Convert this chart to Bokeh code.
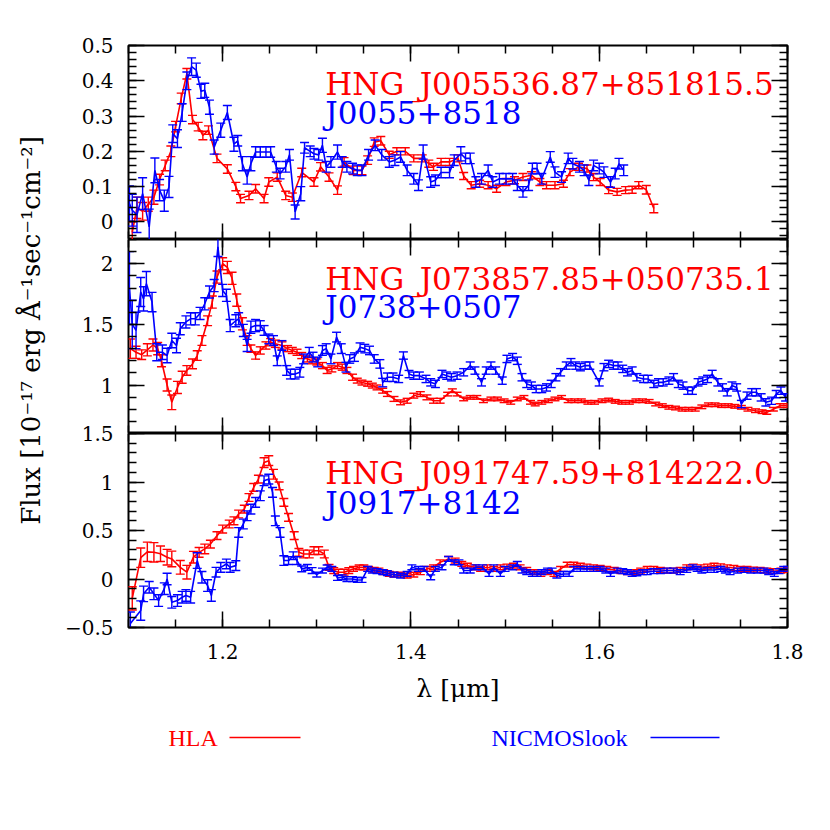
import math
from bokeh.plotting import figure
from bokeh.models import (Range1d, LinearAxis, FixedTicker, CustomJSTickFormatter,
                          Label, ColumnDataSource)
from bokeh.layouts import column, row
from bokeh.embed import file_html
from bokeh.resources import INLINE

RED = "#ff0000"
BLUE = "#0000ff"
SERIF = "DejaVu Serif"

# ---------------- data ----------------
# Panel 1: HNG_J005536.87+851815.5 / J0055+8518
lam1_hla = [1.104,1.109,1.115,1.121,1.127,1.133,1.139,1.145,1.150,1.156,1.162,1.168,1.174,1.179,1.185,1.194,1.205,1.214,1.219,1.228,
            1.235,1.244,1.249,1.258,1.267,1.274,1.284,1.297,1.304,1.313,1.322,1.329,1.339,1.348,1.354,1.361,1.368,1.377,1.385,1.394,
            1.403,1.412,1.419,1.424,1.432,1.441,1.450,1.456,1.464,1.473,1.482,1.491,1.501,1.510,1.519,1.528,1.537,1.544,1.553,1.562,
            1.569,1.578,1.587,1.594,1.601,1.610,1.619,1.628,1.635,1.642,1.650,1.658]
flux1_hla = [-0.03,0.04,0.03,0.05,0.07,0.12,0.16,0.20,0.27,0.35,0.42,0.29,0.27,0.245,0.26,0.18,0.15,0.10,0.066,0.075,
             0.094,0.066,0.113,0.127,0.075,0.07,0.14,0.113,0.156,0.127,0.09,0.17,0.146,0.146,0.175,0.226,0.23,0.19,0.20,0.20,
             0.18,0.18,0.165,0.156,0.17,0.17,0.18,0.13,0.104,0.108,0.104,0.094,0.113,0.118,0.127,0.132,0.113,0.104,0.104,0.108,
             0.141,0.156,0.151,0.127,0.113,0.09,0.085,0.09,0.091,0.104,0.091,0.038]
err1_hla = [0.03,0.03,0.025,0.02,0.02,0.015,0.015,0.015,0.015,0.015,
            0.015,0.012,0.012,0.012,0.012,0.012,0.012,0.012,0.012,0.012,
            0.012,0.012,0.012,0.012,0.012,0.012,0.012,0.012,0.012,0.012,
            0.012,0.012,0.012,0.012,0.012,0.012,0.012,0.01,0.01,0.01,
            0.01,0.01,0.01,0.01,0.01,0.01,0.01,0.01,0.01,0.01,
            0.01,0.01,0.01,0.01,0.01,0.01,0.01,0.01,0.01,0.01,
            0.01,0.01,0.01,0.01,0.01,0.01,0.01,0.01,0.01,0.01,
            0.012,0.012]

lam1_nic = [1.101,1.104,1.109,1.115,1.122,1.128,1.133,1.138,1.143,1.147,1.152,1.157,1.162,1.167,1.172,1.177,1.181,1.186,1.191,1.198,
            1.205,1.212,1.216,1.221,1.226,1.230,1.235,1.240,1.246,1.251,1.257,1.261,1.267,1.271,1.277,1.283,1.287,1.293,1.297,1.302,
            1.306,1.310,1.315,1.322,1.327,1.332,1.338,1.343,1.348,1.355,1.362,1.369,1.377,1.383,1.389,1.396,1.403,1.408,1.413,1.421,
            1.426,1.432,1.441,1.446,1.453,1.458,1.463,1.469,1.475,1.482,1.487,1.494,1.501,1.508,1.513,1.519,1.525,1.529,1.534,1.539,
            1.548,1.553,1.560,1.567,1.572,1.579,1.584,1.589,1.594,1.600,1.605,1.612,1.617,1.621,1.626]
flux1_nic = [0.052,0.033,0.02,0.08,-0.014,0.146,0.09,0.06,0.099,0.25,0.236,0.31,0.40,0.44,0.43,0.37,0.373,0.325,0.212,0.26,
             0.31,0.22,0.23,0.165,0.127,0.165,0.198,0.198,0.198,0.198,0.156,0.137,0.156,0.19,0.028,0.08,0.21,0.20,0.193,0.19,
             0.217,0.156,0.17,0.198,0.17,0.156,0.151,0.146,0.146,0.19,0.217,0.19,0.17,0.175,0.184,0.146,0.122,0.104,0.198,0.113,
             0.118,0.14,0.14,0.175,0.193,0.18,0.18,0.113,0.122,0.146,0.113,0.122,0.122,0.122,0.104,0.085,0.104,0.151,0.151,0.122,
             0.184,0.141,0.127,0.18,0.165,0.156,0.146,0.118,0.16,0.151,0.141,0.113,0.137,0.165,0.146]
err1_nic = [0.05,0.045,0.05,0.045,0.05,0.035,0.03,0.03,0.03,0.025,
            0.025,0.025,0.025,0.025,0.02,0.02,0.02,0.02,0.02,0.02,
            0.02,0.02,0.015,0.02,0.02,0.02,0.015,0.015,0.015,0.015,
            0.015,0.015,0.015,0.015,0.02,0.02,0.015,0.015,0.015,0.015,
            0.02,0.015,0.015,0.02,0.015,0.015,0.015,0.015,0.015,0.015,
            0.015,0.015,0.015,0.015,0.015,0.015,0.015,0.015,0.02,0.015,
            0.015,0.015,0.015,0.015,0.02,0.015,0.015,0.015,0.015,0.015,
            0.015,0.015,0.015,0.015,0.015,0.015,0.015,0.015,0.015,0.015,
            0.015,0.015,0.015,0.015,0.015,0.015,0.015,0.015,0.015,0.015,
            0.015,0.015,0.015,0.015,0.015]

# Panel 2: HNG_J073857.85+050735.1 / J0738+0507
lam2_hla = [1.102,1.108,1.114,1.120,1.126,1.131,1.135,1.141,1.146,1.152,1.157,1.162,1.168,1.173,1.178,1.184,1.189,1.194,1.200,1.205,
            1.210,1.215,1.221,1.226,1.230,1.235,1.240,1.246,1.251,1.256,1.263,1.269,1.274,1.279,1.284,1.290,1.295,1.300,1.306,1.311,
            1.316,1.322,1.327,1.332,1.338,1.343,1.348,1.354,1.359,1.364,1.370,1.375,1.382,1.389,1.396,1.403,1.410,1.417,1.424,1.431,
            1.439,1.444,1.449,1.456,1.463,1.470,1.477,1.485,1.492,1.499,1.506,1.513,1.520,1.527,1.532,1.539,1.546,1.553,1.560,1.567,
            1.574,1.581,1.588,1.595,1.603,1.610,1.617,1.624,1.632,1.639,1.646,1.653,1.660,1.667,1.674,1.681,1.688,1.695,1.702,1.709,
            1.716,1.723,1.730,1.737,1.744,1.751,1.758,1.766,1.773,1.778,1.785,1.792,1.800]
flux2_hla = [1.30,1.27,1.25,1.29,1.33,1.30,1.20,1.00,0.857,0.98,1.064,1.12,1.174,1.243,1.367,1.53,1.684,1.89,2.0,1.97,
             1.88,1.70,1.505,1.367,1.30,1.243,1.285,1.326,1.353,1.34,1.326,1.30,1.285,1.27,1.243,1.215,1.20,1.19,1.16,1.12,
             1.133,1.16,1.147,1.12,1.064,1.036,1.02,1.01,0.995,0.98,0.953,0.926,0.885,0.857,0.87,0.912,0.925,0.898,0.87,0.87,
             0.925,0.953,0.925,0.885,0.898,0.898,0.87,0.885,0.885,0.87,0.857,0.885,0.898,0.857,0.843,0.857,0.87,0.885,0.898,0.87,
             0.87,0.87,0.857,0.857,0.87,0.876,0.865,0.857,0.857,0.87,0.87,0.865,0.843,0.83,0.816,0.81,0.80,0.80,0.80,0.82,
             0.837,0.837,0.83,0.83,0.824,0.816,0.80,0.788,0.78,0.774,0.80,0.83,0.83]
err2_hla = [0.08,0.05,0.04,0.05,0.05,0.05,0.05,0.05,0.06,0.05,
            0.05,0.04,0.04,0.04,0.04,0.04,0.05,0.05,0.05,0.05,
            0.05,0.05,0.05,0.04,0.03,0.03,0.03,0.03,0.03,0.03,
            0.03,0.025,0.025,0.025,0.025,0.025,0.025,0.025,0.025,0.025,
            0.025,0.025,0.025,0.025,0.025,0.02,0.02,0.02,0.02,0.02,
            0.02,0.02,0.02,0.02,0.02,0.02,0.02,0.02,0.02,0.02,
            0.015,0.015,0.015,0.015,0.015,0.015,0.015,0.015,0.015,0.015,
            0.015,0.015,0.015,0.015,0.015,0.015,0.015,0.015,0.015,0.015,
            0.015,0.015,0.015,0.015,0.015,0.015,0.015,0.015,0.015,0.015,
            0.015,0.015,0.015,0.015,0.015,0.015,0.015,0.015,0.015,0.015,
            0.015,0.015,0.015,0.015,0.015,0.015,0.015,0.015,0.015,0.015,
            0.015,0.015,0.015]

lam2_nic = [1.101,1.104,1.108,1.113,1.116,1.119,1.125,1.130,1.136,1.141,1.146,1.151,1.155,1.161,1.166,1.171,1.176,1.181,1.186,1.191,
            1.195,1.200,1.204,1.208,1.214,1.217,1.222,1.226,1.230,1.235,1.240,1.244,1.249,1.254,1.258,1.263,1.268,1.272,1.277,1.282,
            1.286,1.292,1.296,1.301,1.306,1.310,1.315,1.321,1.326,1.331,1.335,1.340,1.346,1.351,1.356,1.361,1.367,1.370,1.375,1.381,
            1.387,1.392,1.398,1.403,1.409,1.416,1.421,1.426,1.433,1.438,1.443,1.449,1.456,1.463,1.468,1.475,1.480,1.485,1.490,1.497,
            1.502,1.508,1.513,1.518,1.523,1.528,1.533,1.539,1.544,1.549,1.554,1.559,1.565,1.570,1.575,1.580,1.585,1.590,1.600,1.605,
            1.610,1.615,1.620,1.625,1.630,1.635,1.640,1.647,1.652,1.658,1.663,1.668,1.674,1.679,1.684,1.689,1.694,1.699,1.705,1.710,
            1.715,1.720,1.726,1.731,1.736,1.741,1.746,1.751,1.757,1.762,1.767,1.772,1.777,1.783,1.788,1.793,1.798]
flux2_nic = [1.80,1.50,1.45,1.767,1.71,1.836,1.684,1.27,1.27,1.243,1.367,1.326,1.464,1.52,1.546,1.546,1.59,1.67,1.767,1.82,
             2.14,1.78,1.74,1.49,1.53,1.546,1.45,1.326,1.477,1.49,1.49,1.45,1.38,1.367,1.20,1.326,1.12,1.09,1.09,1.105,
             1.215,1.27,1.23,1.19,1.285,1.30,1.215,1.395,1.30,1.147,1.215,1.23,1.312,1.30,1.285,1.215,1.174,1.02,1.064,1.064,
             1.05,1.243,1.09,1.077,1.077,1.05,1.022,1.009,1.091,1.077,1.064,1.077,1.105,1.16,1.119,1.022,1.119,1.16,1.119,1.036,
             1.215,1.23,1.20,1.064,1.009,0.995,0.967,0.967,0.98,1.009,1.064,1.105,1.16,1.188,1.16,1.147,1.16,1.16,1.022,1.147,
             1.174,1.16,1.16,1.133,1.105,1.119,1.064,1.05,1.05,1.009,1.022,1.022,1.036,1.064,1.009,0.995,0.953,0.953,1.022,1.036,
             1.05,1.091,1.022,0.98,0.94,0.995,0.98,0.843,0.912,0.94,0.94,0.898,0.857,0.87,0.925,0.953,0.898]
err2_nic = [0.3,0.2,0.15,0.12,0.1,0.1,0.08,0.07,0.06,0.06,
            0.06,0.06,0.05,0.05,0.05,0.05,0.05,0.05,0.05,0.05,
            0.08,0.05,0.05,0.05,0.05,0.05,0.05,0.05,0.05,0.05,
            0.04,0.04,0.04,0.04,0.04,0.04,0.04,0.04,0.04,0.04,
            0.04,0.04,0.04,0.04,0.04,0.04,0.04,0.04,0.04,0.04,
            0.035,0.035,0.035,0.035,0.035,0.035,0.035,0.035,0.035,0.035,
            0.03,0.03,0.03,0.03,0.03,0.03,0.03,0.03,0.03,0.03,
            0.03,0.03,0.03,0.03,0.03,0.03,0.03,0.03,0.03,0.03,
            0.03,0.03,0.03,0.03,0.03,0.03,0.03,0.03,0.03,0.03,
            0.03,0.03,0.03,0.03,0.03,0.03,0.03,0.03,0.03,0.03,
            0.03,0.03,0.03,0.03,0.03,0.03,0.03,0.03,0.03,0.03,
            0.03,0.03,0.03,0.03,0.03,0.03,0.03,0.03,0.03,0.03,
            0.03,0.03,0.03,0.03,0.03,0.03,0.03,0.03,0.03,0.03,
            0.03,0.03,0.03,0.03,0.03,0.03,0.03]

# Panel 3: HNG_J091747.59+814222.0 / J0917+8142
lam3_hla = [1.104,1.113,1.120,1.127,1.134,1.141,1.146,1.155,1.162,1.169,1.175,1.181,1.187,1.194,1.200,1.207,1.212,1.217,1.223,1.228,
            1.233,1.238,1.244,1.249,1.254,1.260,1.265,1.270,1.276,1.281,1.286,1.292,1.297,1.302,1.308,1.313,1.318,1.323,1.329,1.334,
            1.339,1.345,1.350,1.355,1.361,1.366,1.371,1.377,1.382,1.389,1.396,1.403,1.410,1.417,1.424,1.431,1.440,1.447,1.454,1.460,
            1.467,1.474,1.481,1.488,1.495,1.502,1.509,1.516,1.523,1.531,1.538,1.545,1.552,1.559,1.566,1.573,1.580,1.587,1.594,1.601,
            1.608,1.616,1.623,1.630,1.637,1.644,1.651,1.658,1.665,1.672,1.679,1.686,1.693,1.700,1.708,1.715,1.722,1.729,1.736,1.743,
            1.750,1.757,1.764,1.771,1.778,1.785,1.793,1.800]
flux3_hla = [-0.20,0.22,0.28,0.275,0.26,0.225,0.207,0.12,0.07,0.225,0.275,0.31,0.36,0.447,0.515,0.567,0.60,0.67,0.72,0.84,
             0.944,1.03,1.20,1.22,1.08,0.96,0.79,0.635,0.447,0.275,0.258,0.258,0.292,0.292,0.258,0.12,0.087,0.07,0.07,0.087,
             0.104,0.12,0.12,0.104,0.094,0.087,0.07,0.052,0.045,0.045,0.035,0.045,0.07,0.104,0.121,0.172,0.207,0.19,0.155,0.138,
             0.121,0.104,0.121,0.104,0.121,0.128,0.138,0.121,0.093,0.07,0.052,0.07,0.052,0.104,0.148,0.148,0.138,0.128,0.121,0.114,
             0.104,0.093,0.08,0.07,0.07,0.087,0.104,0.104,0.093,0.087,0.087,0.093,0.121,0.128,0.121,0.128,0.138,0.131,0.121,0.114,
             0.104,0.104,0.097,0.093,0.087,0.08,0.087,0.093]
err3_hla = [0.12,0.1,0.1,0.1,0.08,0.08,0.08,0.07,0.07,0.06,
            0.05,0.05,0.04,0.04,0.04,0.04,0.04,0.04,0.04,0.04,
            0.04,0.04,0.05,0.05,0.05,0.04,0.04,0.04,0.04,0.04,
            0.04,0.04,0.04,0.04,0.04,0.03,0.03,0.03,0.03,0.03,
            0.025,0.025,0.025,0.025,0.025,0.025,0.025,0.025,0.025,0.025,
            0.025,0.025,0.025,0.025,0.025,0.025,0.025,0.025,0.025,0.025,
            0.025,0.025,0.025,0.025,0.025,0.025,0.025,0.025,0.025,0.025,
            0.025,0.025,0.025,0.025,0.025,0.025,0.025,0.025,0.025,0.025,
            0.025,0.025,0.025,0.025,0.025,0.025,0.025,0.025,0.025,0.025,
            0.025,0.025,0.025,0.025,0.025,0.025,0.025,0.025,0.025,0.025,
            0.025,0.025,0.025,0.025,0.025,0.025,0.025,0.025]

lam3_nic = [1.102,1.113,1.116,1.122,1.127,1.132,1.138,1.141,1.146,1.152,1.157,1.161,1.166,1.173,1.178,1.184,1.188,1.193,1.198,1.204,
            1.208,1.214,1.217,1.222,1.226,1.230,1.235,1.240,1.244,1.249,1.253,1.256,1.261,1.265,1.270,1.275,1.279,1.284,1.290,1.295,
            1.300,1.306,1.311,1.316,1.322,1.327,1.332,1.338,1.343,1.348,1.354,1.359,1.364,1.370,1.375,1.382,1.389,1.396,1.401,1.408,
            1.414,1.421,1.426,1.433,1.440,1.446,1.451,1.456,1.463,1.469,1.476,1.483,1.488,1.495,1.500,1.508,1.513,1.518,1.523,1.529,
            1.534,1.539,1.545,1.550,1.555,1.562,1.568,1.573,1.580,1.587,1.594,1.601,1.607,1.612,1.619,1.625,1.630,1.635,1.640,1.646,
            1.651,1.658,1.665,1.672,1.679,1.686,1.693,1.699,1.704,1.709,1.715,1.722,1.729,1.734,1.739,1.747,1.754,1.761,1.768,1.775,
            1.780,1.786,1.791,1.796,1.800]
flux3_nic = [-0.46,-0.325,-0.153,-0.085,-0.153,-0.222,-0.10,0.0,-0.24,-0.222,-0.188,-0.17,-0.188,0.19,0.018,-0.068,-0.17,0.07,0.12,0.155,
             0.12,0.138,0.48,0.567,0.652,0.72,0.79,0.858,1.013,1.03,0.893,0.60,0.48,0.19,0.19,0.24,0.19,0.104,0.12,0.087,
             0.045,0.087,0.12,0.104,0.011,0.018,0.0,0.0,-0.01,-0.01,0.104,0.087,0.08,0.07,0.06,0.045,0.035,0.052,0.121,0.104,
             0.104,0.018,0.104,0.121,0.207,0.172,0.172,0.087,0.087,0.121,0.121,0.052,0.121,0.052,0.104,0.121,0.155,0.087,0.07,0.052,
             0.052,0.07,0.087,0.087,0.035,0.052,0.052,0.104,0.104,0.104,0.104,0.104,0.087,0.052,0.087,0.08,0.07,0.052,0.059,0.07,
             0.07,0.08,0.08,0.087,0.087,0.07,0.093,0.121,0.104,0.087,0.093,0.093,0.104,0.087,0.07,0.087,0.093,0.087,0.087,0.087,
             0.07,0.052,0.08,0.104,0.104]
err3_nic = [0.12,0.1,0.08,0.06,0.06,0.06,0.06,0.06,0.06,0.06,
            0.06,0.06,0.06,0.08,0.06,0.06,0.06,0.05,0.05,0.05,
            0.05,0.05,0.05,0.05,0.05,0.05,0.05,0.05,0.05,0.05,
            0.05,0.05,0.05,0.05,0.04,0.04,0.04,0.03,0.03,0.03,
            0.025,0.025,0.025,0.025,0.025,0.025,0.025,0.025,0.025,0.025,
            0.025,0.025,0.025,0.025,0.025,0.025,0.025,0.025,0.025,0.025,
            0.025,0.025,0.025,0.025,0.025,0.025,0.025,0.025,0.025,0.025,
            0.025,0.025,0.025,0.025,0.025,0.025,0.025,0.025,0.025,0.025,
            0.025,0.025,0.025,0.025,0.025,0.025,0.025,0.025,0.025,0.025,
            0.025,0.025,0.025,0.025,0.025,0.025,0.025,0.025,0.025,0.025,
            0.025,0.025,0.025,0.025,0.025,0.025,0.025,0.025,0.025,0.025,
            0.025,0.025,0.025,0.025,0.025,0.025,0.025,0.025,0.025,0.025,
            0.025,0.025,0.025,0.025,0.025]

names_hla = ["HNG_J005536.87+851815.5", "HNG_J073857.85+050735.1", "HNG_J091747.59+814222.0"]
names_nic = ["J0055+8518", "J0738+0507", "J0917+8142"]
legend_names = ["HLA", "NICMOSlook"]

x_major = [1.2, 1.4, 1.6, 1.8]
x_minor = [round(1.1 + 0.05 * i, 2) for i in range(15)]
y1_major = [0, 0.1, 0.2, 0.3, 0.4, 0.5]
y1_minor = [round(-0.04 + 0.02 * i, 2) for i in range(28)]
y2_major = [1, 1.5, 2]
y2_minor = [round(0.6 + 0.1 * i, 1) for i in range(17)]
y3_major = [-0.5, 0, 0.5, 1, 1.5]
y3_minor = [round(-0.5 + 0.1 * i, 1) for i in range(21)]

# ---------------- layout constants ----------------
YL_W = 48
FIG_W = 766
B_LEFT = 80
B_RIGHT = 27
FRAME_H = 194
OVERLAP = 14   # p3 canvas slides up under p2 so its top tick label is not clipped

LABEL_FMT = "return (tick < 0 ? '\u2212' : '') + String(Math.abs(tick));"


def style_axis(ax, labels):
    ax.axis_line_color = None
    ax.major_tick_in = 16
    ax.major_tick_out = 0
    ax.minor_tick_in = 8
    ax.minor_tick_out = 0
    ax.major_tick_line_width = 1.5
    ax.minor_tick_line_width = 1.5
    ax.major_tick_line_color = "black"
    ax.minor_tick_line_color = "black"
    if labels:
        ax.formatter = CustomJSTickFormatter(code=LABEL_FMT)
        ax.major_label_text_font = SERIF
        ax.major_label_text_font_size = "20px"
        ax.major_label_text_color = "black"
    else:
        ax.formatter = CustomJSTickFormatter(code="return '';")
        ax.major_label_text_font_size = "0px"
        ax.major_label_standoff = 0
        ax.axis_label_standoff = 0


def make_panel(yr, ymaj, ymin, top, bottom, xlabels):
    p = figure(width=FIG_W, height=top + FRAME_H + bottom,
               x_range=Range1d(1.1, 1.8), y_range=Range1d(*yr),
               x_axis_type=None, y_axis_type=None,
               toolbar_location=None, output_backend="svg",
               min_border_left=B_LEFT, min_border_right=B_RIGHT,
               min_border_top=top, min_border_bottom=bottom)
    p.outline_line_color = "black"
    p.outline_line_width = 2
    p.background_fill_color = "white"
    p.border_fill_color = None
    xt = FixedTicker(ticks=x_major, minor_ticks=x_minor)
    yt = FixedTicker(ticks=ymaj, minor_ticks=ymin)

    bax = LinearAxis(ticker=xt)
    style_axis(bax, xlabels)
    if xlabels:
        bax.major_label_standoff = 16
        bax.axis_label = "\u03bb [\u03bcm]"
        bax.axis_label_text_font = SERIF
        bax.axis_label_text_font_size = "25px"
        bax.axis_label_text_font_style = "normal"
        bax.axis_label_text_color = "black"
        bax.axis_label_standoff = 12
    p.add_layout(bax, "below")

    tax = LinearAxis(ticker=xt)
    style_axis(tax, False)
    p.add_layout(tax, "above")

    lax = LinearAxis(ticker=yt)
    style_axis(lax, True)
    lax.major_label_standoff = 15
    p.add_layout(lax, "left")

    rax = LinearAxis(ticker=yt)
    style_axis(rax, False)
    p.add_layout(rax, "right")
    return p


def draw(p, lam, flux, err, color):
    n = min(len(lam), len(flux), len(err))
    src = ColumnDataSource(dict(
        x=lam[:n], y=flux[:n],
        lo=[flux[i] - err[i] for i in range(n)],
        hi=[flux[i] + err[i] for i in range(n)]))
    p.line("x", "y", source=src, line_color=color, line_width=1.6)
    p.segment("x", "lo", "x", "hi", source=src, line_color=color, line_width=1.4)
    p.scatter("x", "lo", source=src, marker="dash", size=9, line_color=color, line_width=1.4)
    p.scatter("x", "hi", source=src, marker="dash", size=9, line_color=color, line_width=1.4)


def annotate(p, name_red, name_blue, x, y_red, y_blue):
    p.add_layout(Label(x=x, y=y_red, text=name_red, text_color=RED,
                       text_font=SERIF, text_font_size="31px",
                       text_align="left", text_baseline="alphabetic"))
    p.add_layout(Label(x=x, y=y_blue, text=name_blue, text_color=BLUE,
                       text_font=SERIF, text_font_size="31px",
                       text_align="left", text_baseline="alphabetic"))


p1 = make_panel((-0.05, 0.5), y1_major, y1_minor, 45, 0, False)
draw(p1, lam1_hla, flux1_hla, err1_hla, RED)
draw(p1, lam1_nic, flux1_nic, err1_nic, BLUE)
annotate(p1, names_hla[0], names_nic[0], 1.309, 0.39, 0.3075)

p2 = make_panel((0.6, 2.2), y2_major, y2_minor, 0, 0, False)
draw(p2, lam2_hla, flux2_hla, err2_hla, RED)
draw(p2, lam2_nic, flux2_nic, err2_nic, BLUE)
annotate(p2, names_hla[1], names_nic[1], 1.309, 1.877, 1.64)

p3 = make_panel((-0.5, 1.5), y3_major, y3_minor, OVERLAP, 85, True)
p3.margin = (-OVERLAP, 0, 0, 0)
draw(p3, lam3_hla, flux3_hla, err3_hla, RED)
draw(p3, lam3_nic, flux3_nic, err3_nic, BLUE)
annotate(p3, names_hla[2], names_nic[2], 1.309, 1.088, 0.787)

# legend strip (frame aligned with the panels' frames, pixel units)
LEG_H = 50
FRAME_W = FIG_W - B_LEFT - B_RIGHT
leg = figure(width=FIG_W, height=LEG_H, x_range=Range1d(0, FRAME_W), y_range=Range1d(0, LEG_H),
             x_axis_type=None, y_axis_type=None, toolbar_location=None, output_backend="svg",
             min_border_left=B_LEFT, min_border_right=B_RIGHT, min_border_top=0, min_border_bottom=0)
leg.outline_line_color = None
leg.add_layout(Label(x=40, y=25, text=legend_names[0], text_color=RED, text_font="Liberation Serif",
                     text_font_size="24px", text_align="left", text_baseline="middle"))
leg.line([101, 172], [25, 25], line_color=RED, line_width=1.6)
leg.add_layout(Label(x=363, y=25, text=legend_names[1], text_color=BLUE, text_font="Liberation Serif",
                     text_font_size="24px", text_align="left", text_baseline="middle"))
leg.line([522, 591], [25, 25], line_color=BLUE, line_width=1.6)

# y-axis label strip
total_h = p1.height + p2.height + p3.height - OVERLAP + LEG_H
yl = figure(width=YL_W, height=total_h, x_range=Range1d(0, YL_W), y_range=Range1d(0, total_h),
            x_axis_type=None, y_axis_type=None, toolbar_location=None, output_backend="svg",
            min_border_left=0, min_border_right=0, min_border_top=0, min_border_bottom=0)
yl.outline_line_color = None
yl.add_layout(Label(x=30, y=total_h - 330,
                    text="Flux [10\u207b\u00b9\u2077 erg \u00c5\u207b\u00b9sec\u207b\u00b9cm\u207b\u00b2]",
                    text_font=SERIF, text_font_size="26px", text_color="black",
                    angle=math.pi / 2, text_align="center", text_baseline="middle"))

layout = row(yl, column(p1, p2, p3, leg))

with open("out.html", "w") as f:
    f.write(file_html(layout, INLINE))
